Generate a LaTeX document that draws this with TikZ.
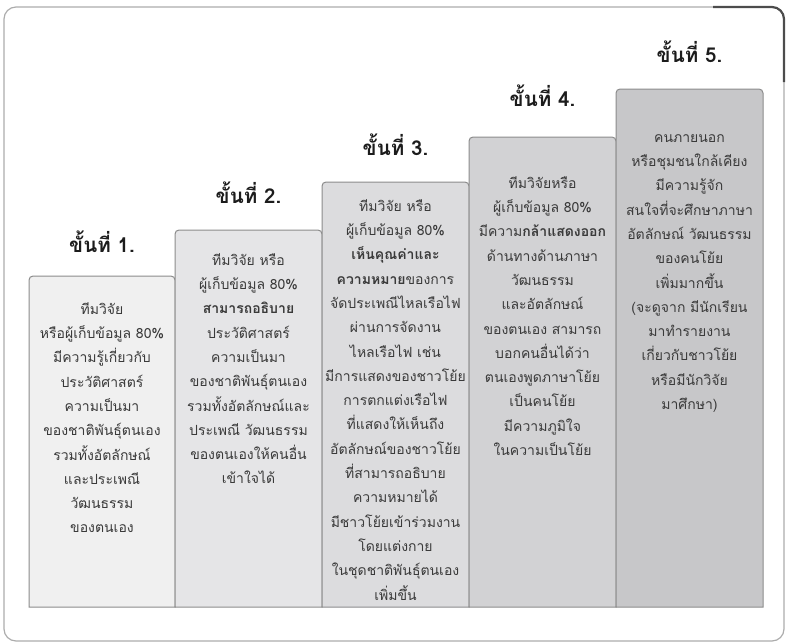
\documentclass[tikz,border=0pt]{standalone}
\usepackage{fontspec}
\newfontfamily\thaifont[Script=Thai]{Loma}
\definecolor{stepa}{RGB}{240,240,240}
\definecolor{stepb}{RGB}{229,229,231}
\definecolor{stepc}{RGB}{220,220,222}
\definecolor{stepd}{RGB}{210,210,212}
\definecolor{stepe}{RGB}{199,199,201}
\definecolor{boxline}{RGB}{140,140,140}
\definecolor{bodytxt}{RGB}{58,58,58}
\definecolor{headtxt}{RGB}{28,28,28}
\tikzset{
  frm/.style={draw=gray!65, line width=1.2pt, rounded corners=12pt},
  frmdk/.style={draw=black!70, line width=2.2pt, rounded corners=12pt},
  stepbox/.style={draw=boxline, line width=1pt},
  stephd/.style={font=\thaifont\bfseries\fontsize{20.5}{24}\selectfont, text=headtxt, anchor=base},
  steptx/.style={font=\thaifont\fontsize{14}{24.3}\selectfont, text=bodytxt,
                 align=center, anchor=north, inner sep=0pt},
}

\begin{document}
\begin{tikzpicture}[x=1pt, y=-1pt]
  \useasboundingbox (0,0) rectangle (788,643);
  % outer frame
  \draw[frm] (4,7) rectangle (784,641);
  \draw[frmdk] (713,7) -- (784,7) -- (784,82);
  % stairs
  \draw[stepbox, fill=stepa] (29,607) [rounded corners=4pt] -- (29,276) -- (175,276) [sharp corners] -- (175,607) -- cycle;
  \draw[stepbox, fill=stepb] (175,607) [rounded corners=4pt] -- (175,230) -- (322,230) [sharp corners] -- (322,607) -- cycle;
  \draw[stepbox, fill=stepc] (322,607) [rounded corners=4pt] -- (322,182) -- (469,182) [sharp corners] -- (469,607) -- cycle;
  \draw[stepbox, fill=stepd] (469,607) [rounded corners=4pt] -- (469,137) -- (616,137) [sharp corners] -- (616,607) -- cycle;
  \draw[stepbox, fill=stepe] (616,607) [rounded corners=4pt] -- (616,89) -- (763,89) [sharp corners] -- (763,607) -- cycle;
  % headings
  \node[stephd] (h1) at (102,252) {ขั้นที่ 1.};
  \node[stephd] (h2) at (248.5,203) {ขั้นที่ 2.};
  \node[stephd] (h3) at (395.5,155) {ขั้นที่ 3.};
  \node[stephd] (h4) at (542.5,106) {ขั้นที่ 4.};
  \node[stephd] (h5) at (689.5,62) {ขั้นที่ 5.};
  % texts
  \node[steptx] (t1) at (102,297) {\strut ทีมวิจัย\\หรือผู้เก็บข้อมูล 80\%\\มีความรู้เกี่ยวกับ\\ประวัติศาสตร์\\ความเป็นมา\\ของชาติพันธุ์ตนเอง\\รวมทั้งอัตลักษณ์\\และประเพณี\\วัฒนธรรม\\ของตนเอง};
  \node[steptx] (t2) at (248.5,248) {\strut ทีมวิจัย หรือ\\ผู้เก็บข้อมูล 80\%\\\textbf{สามารถอธิบาย}\\ประวัติศาสตร์\\ความเป็นมา\\ของชาติพันธุ์ตนเอง\\รวมทั้งอัตลักษณ์และ\\ประเพณี วัฒนธรรม\\ของตนเองให้คนอื่น\\เข้าใจได้};
  \node[steptx] (t3) at (395.5,194) {\strut ทีมวิจัย หรือ\\ผู้เก็บข้อมูล 80\%\\\textbf{เห็นคุณค่าและ}\\\textbf{ความหมาย}ของการ\\จัดประเพณีไหลเรือไฟ\\ผ่านการจัดงาน\\ไหลเรือไฟ เช่น\\มีการแสดงของชาวโย้ย\\การตกแต่งเรือไฟ\\ที่แสดงให้เห็นถึง\\อัตลักษณ์ของชาวโย้ย\\ที่สามารถอธิบาย\\ความหมายได้\\มีชาวโย้ยเข้าร่วมงาน\\โดยแต่งกาย\\ในชุดชาติพันธุ์ตนเอง\\เพิ่มขึ้น};
  \node[steptx] (t4) at (542.5,171) {\strut ทีมวิจัยหรือ\\ผู้เก็บข้อมูล 80\%\\มีความ\textbf{กล้าแสดงออก}\\ด้านทางด้านภาษา\\วัฒนธรรม\\และอัตลักษณ์\\ของตนเอง สามารถ\\บอกคนอื่นได้ว่า\\ตนเองพูดภาษาโย้ย\\เป็นคนโย้ย\\มีความภูมิใจ\\ในความเป็นโย้ย};
  \node[steptx] (t5) at (689.5,125) {\strut คนภายนอก\\หรือชุมชนใกล้เคียง\\มีความรู้จัก\\สนใจที่จะศึกษาภาษา\\อัตลักษณ์ วัฒนธรรม\\ของคนโย้ย\\เพิ่มมากขึ้น\\(จะดูจาก มีนักเรียน\\มาทำรายงาน\\เกี่ยวกับชาวโย้ย\\หรือมีนักวิจัย\\มาศึกษา)};
\end{tikzpicture}
\end{document}
